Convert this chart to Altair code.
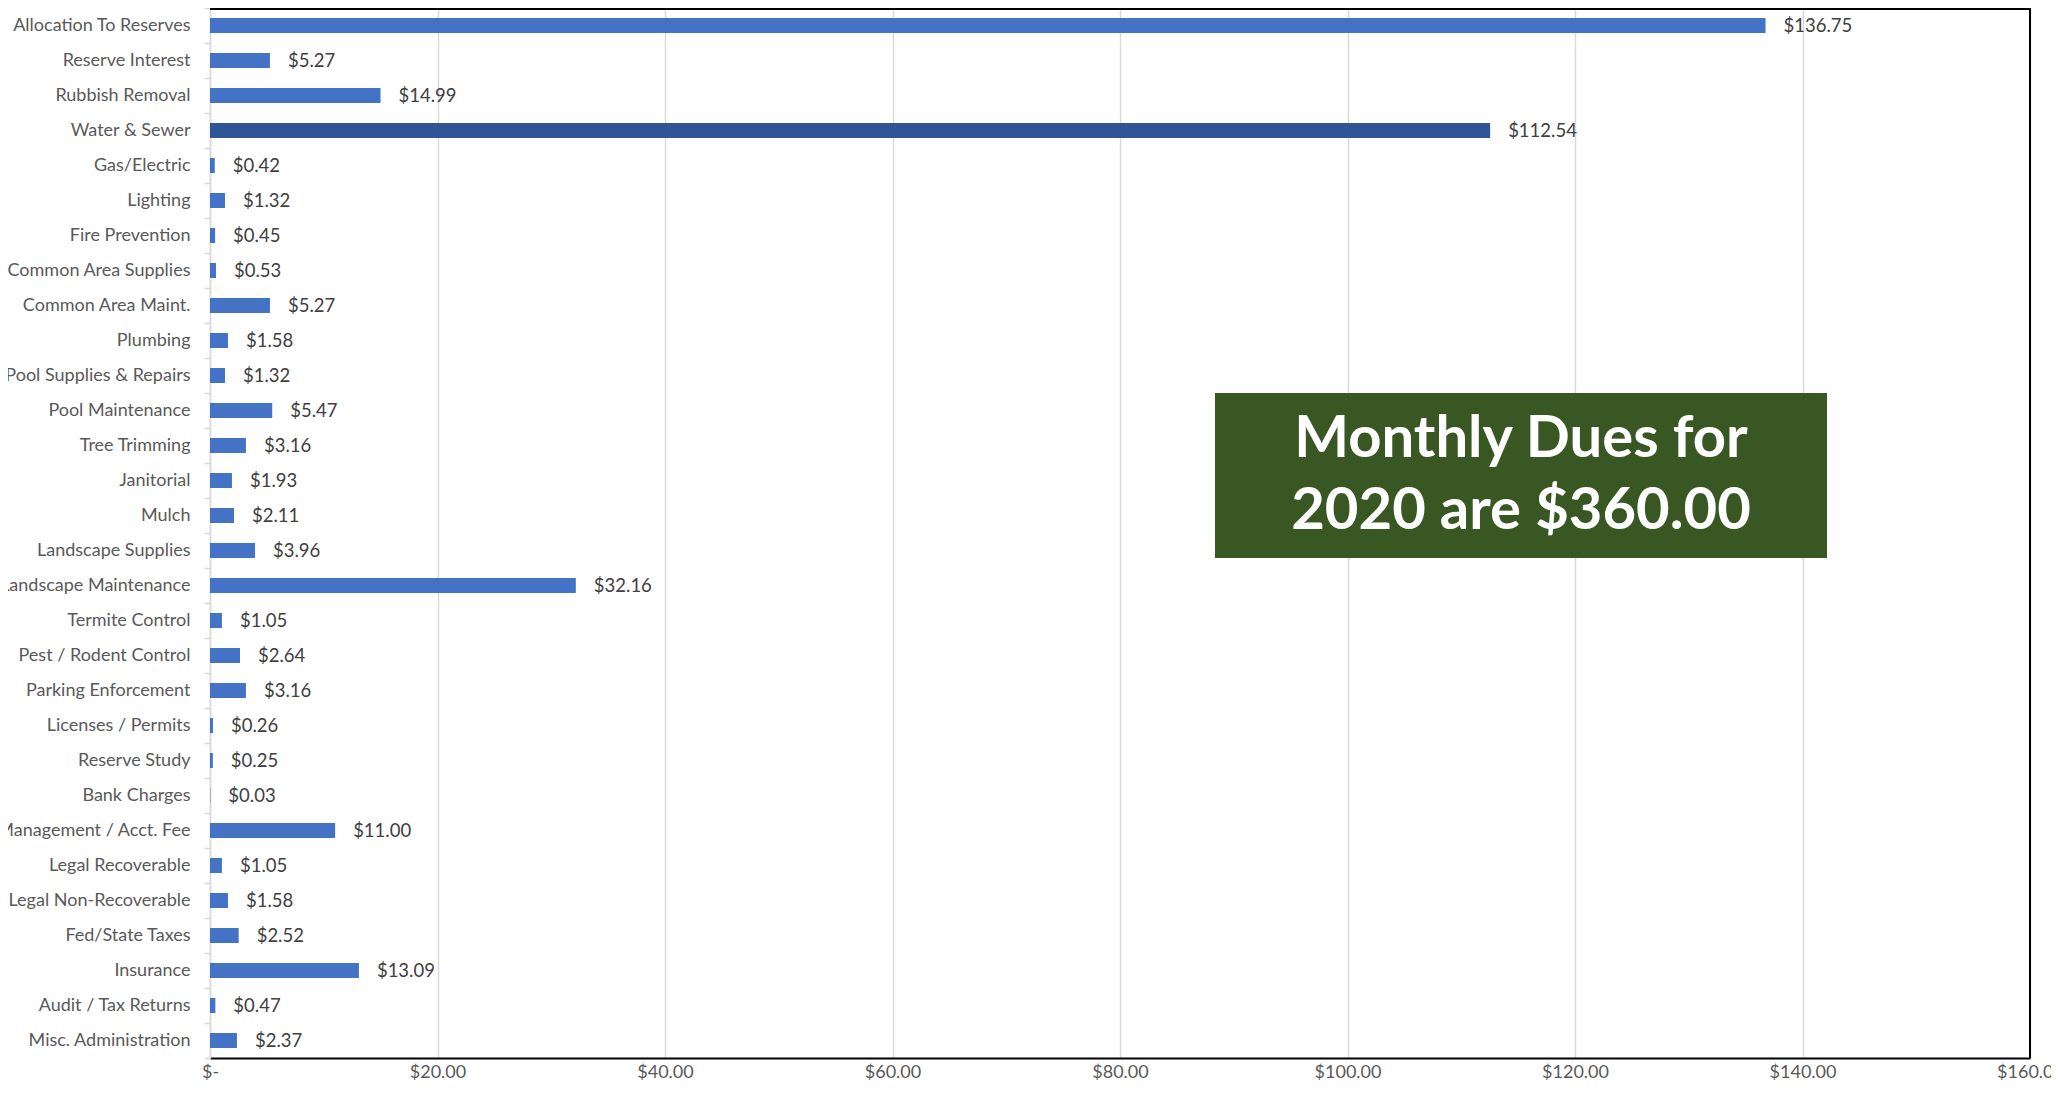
import altair as alt
import pandas as pd

categories = [
    "Allocation To Reserves", "Reserve Interest", "Rubbish Removal", "Water & Sewer",
    "Gas/Electric", "Lighting", "Fire Prevention", "Common Area Supplies",
    "Common Area Maint.", "Plumbing\u00a0", "Pool Supplies & Repairs", "Pool Maintenance",
    "Tree Trimming", "Janitorial\u00a0", "Mulch", "Landscape Supplies",
    "Landscape Maintenance", "Termite Control", "Pest / Rodent Control",
    "Parking Enforcement", "Licenses / Permits", "Reserve Study", "Bank Charges",
    "Management / Acct. Fee", "Legal Recoverable", "Legal Non-Recoverable",
    "Fed/State Taxes", "Insurance", "Audit / Tax Returns", "Misc. Administration",
]
values = [
    136.75, 5.27, 14.99, 112.54, 0.42, 1.32, 0.45, 0.53, 5.27, 1.58, 1.32, 5.47,
    3.16, 1.93, 2.11, 3.96, 32.16, 1.05, 2.64, 3.16, 0.26, 0.25, 0.03, 11.00,
    1.05, 1.58, 2.52, 13.09, 0.47, 2.37,
]
highlight = "Water & Sewer"
x_ticks = [0, 20, 40, 60, 80, 100, 120, 140, 160]
note_lines = ["Monthly Dues for", "2020 are $360.00"]

df = pd.DataFrame({"category": categories, "value": values})
one = pd.DataFrame({"k": [0]})

W, H = 1820, 1050
FONT = "Lato"
LABEL = "#595959"

base = alt.Chart(df).encode(
    y=alt.Y(
        "category:N",
        sort=categories,
        scale=alt.Scale(paddingInner=0, paddingOuter=0),
        axis=alt.Axis(
            title=None,
            domainColor="#D9D9D9",
            domainWidth=1.5,
            tickColor="#D9D9D9",
            tickWidth=1.5,
            tickSize=6,
            tickBand="extent",
            labelPadding=14,
            labelFont=FONT,
            labelFontSize=18,
            labelColor=LABEL,
            labelLimit=0,
            grid=False,
        ),
    ),
    x=alt.X(
        "value:Q",
        scale=alt.Scale(domain=[0, 160], nice=False),
        axis=alt.Axis(
            title=None,
            values=x_ticks,
            labelExpr="datum.value == 0 ? '$-' : '$' + format(datum.value, '.2f')",
            grid=True,
            gridColor="#D9D9D9",
            gridWidth=1.5,
            domainColor="black",
            domainWidth=2,
            ticks=False,
            labelPadding=5,
            labelFont=FONT,
            labelFontSize=18,
            labelColor=LABEL,
            labelFlush=False,
            labelOverlap=False,
        ),
    ),
)

bars = base.mark_bar(size=15).encode(
    color=alt.condition(
        alt.datum.category == highlight, alt.value("#2F5597"), alt.value("#4472C4")
    )
)

vals = base.mark_text(
    align="left", baseline="middle", dx=18, font=FONT, fontSize=18.5, color="#404040"
).encode(text=alt.Text("value:Q", format="$.2f"))

top_rule = alt.Chart(one).mark_rule(color="black", strokeWidth=2).encode(
    x=alt.value(0), x2=alt.value(W), y=alt.value(1)
)
right_rule = alt.Chart(one).mark_rule(color="black", strokeWidth=2).encode(
    x=alt.value(W), y=alt.value(0), y2=alt.value(H)
)

box = alt.Chart(one).mark_rect(color="#385723").encode(
    x=alt.value(1005), x2=alt.value(1617), y=alt.value(385), y2=alt.value(550)
)
note = alt.Chart(one).mark_text(
    text=note_lines,
    font=FONT,
    fontWeight="bold",
    fontSize=58,
    color="white",
    lineHeight=72,
    align="center",
    baseline="middle",
).encode(x=alt.value(1311), y=alt.value(432))

chart = (
    alt.layer(bars, vals, top_rule, right_rule, box, note)
    .properties(
        width=W,
        height=H,
        autosize=alt.AutoSizeParams(type="none"),
        padding={"left": 202, "top": 0, "right": 21, "bottom": 24},
        background="white",
    )
    .configure_view(stroke=None)
)

chart.save("out.html", embed_options={"renderer": "svg", "actions": False})
